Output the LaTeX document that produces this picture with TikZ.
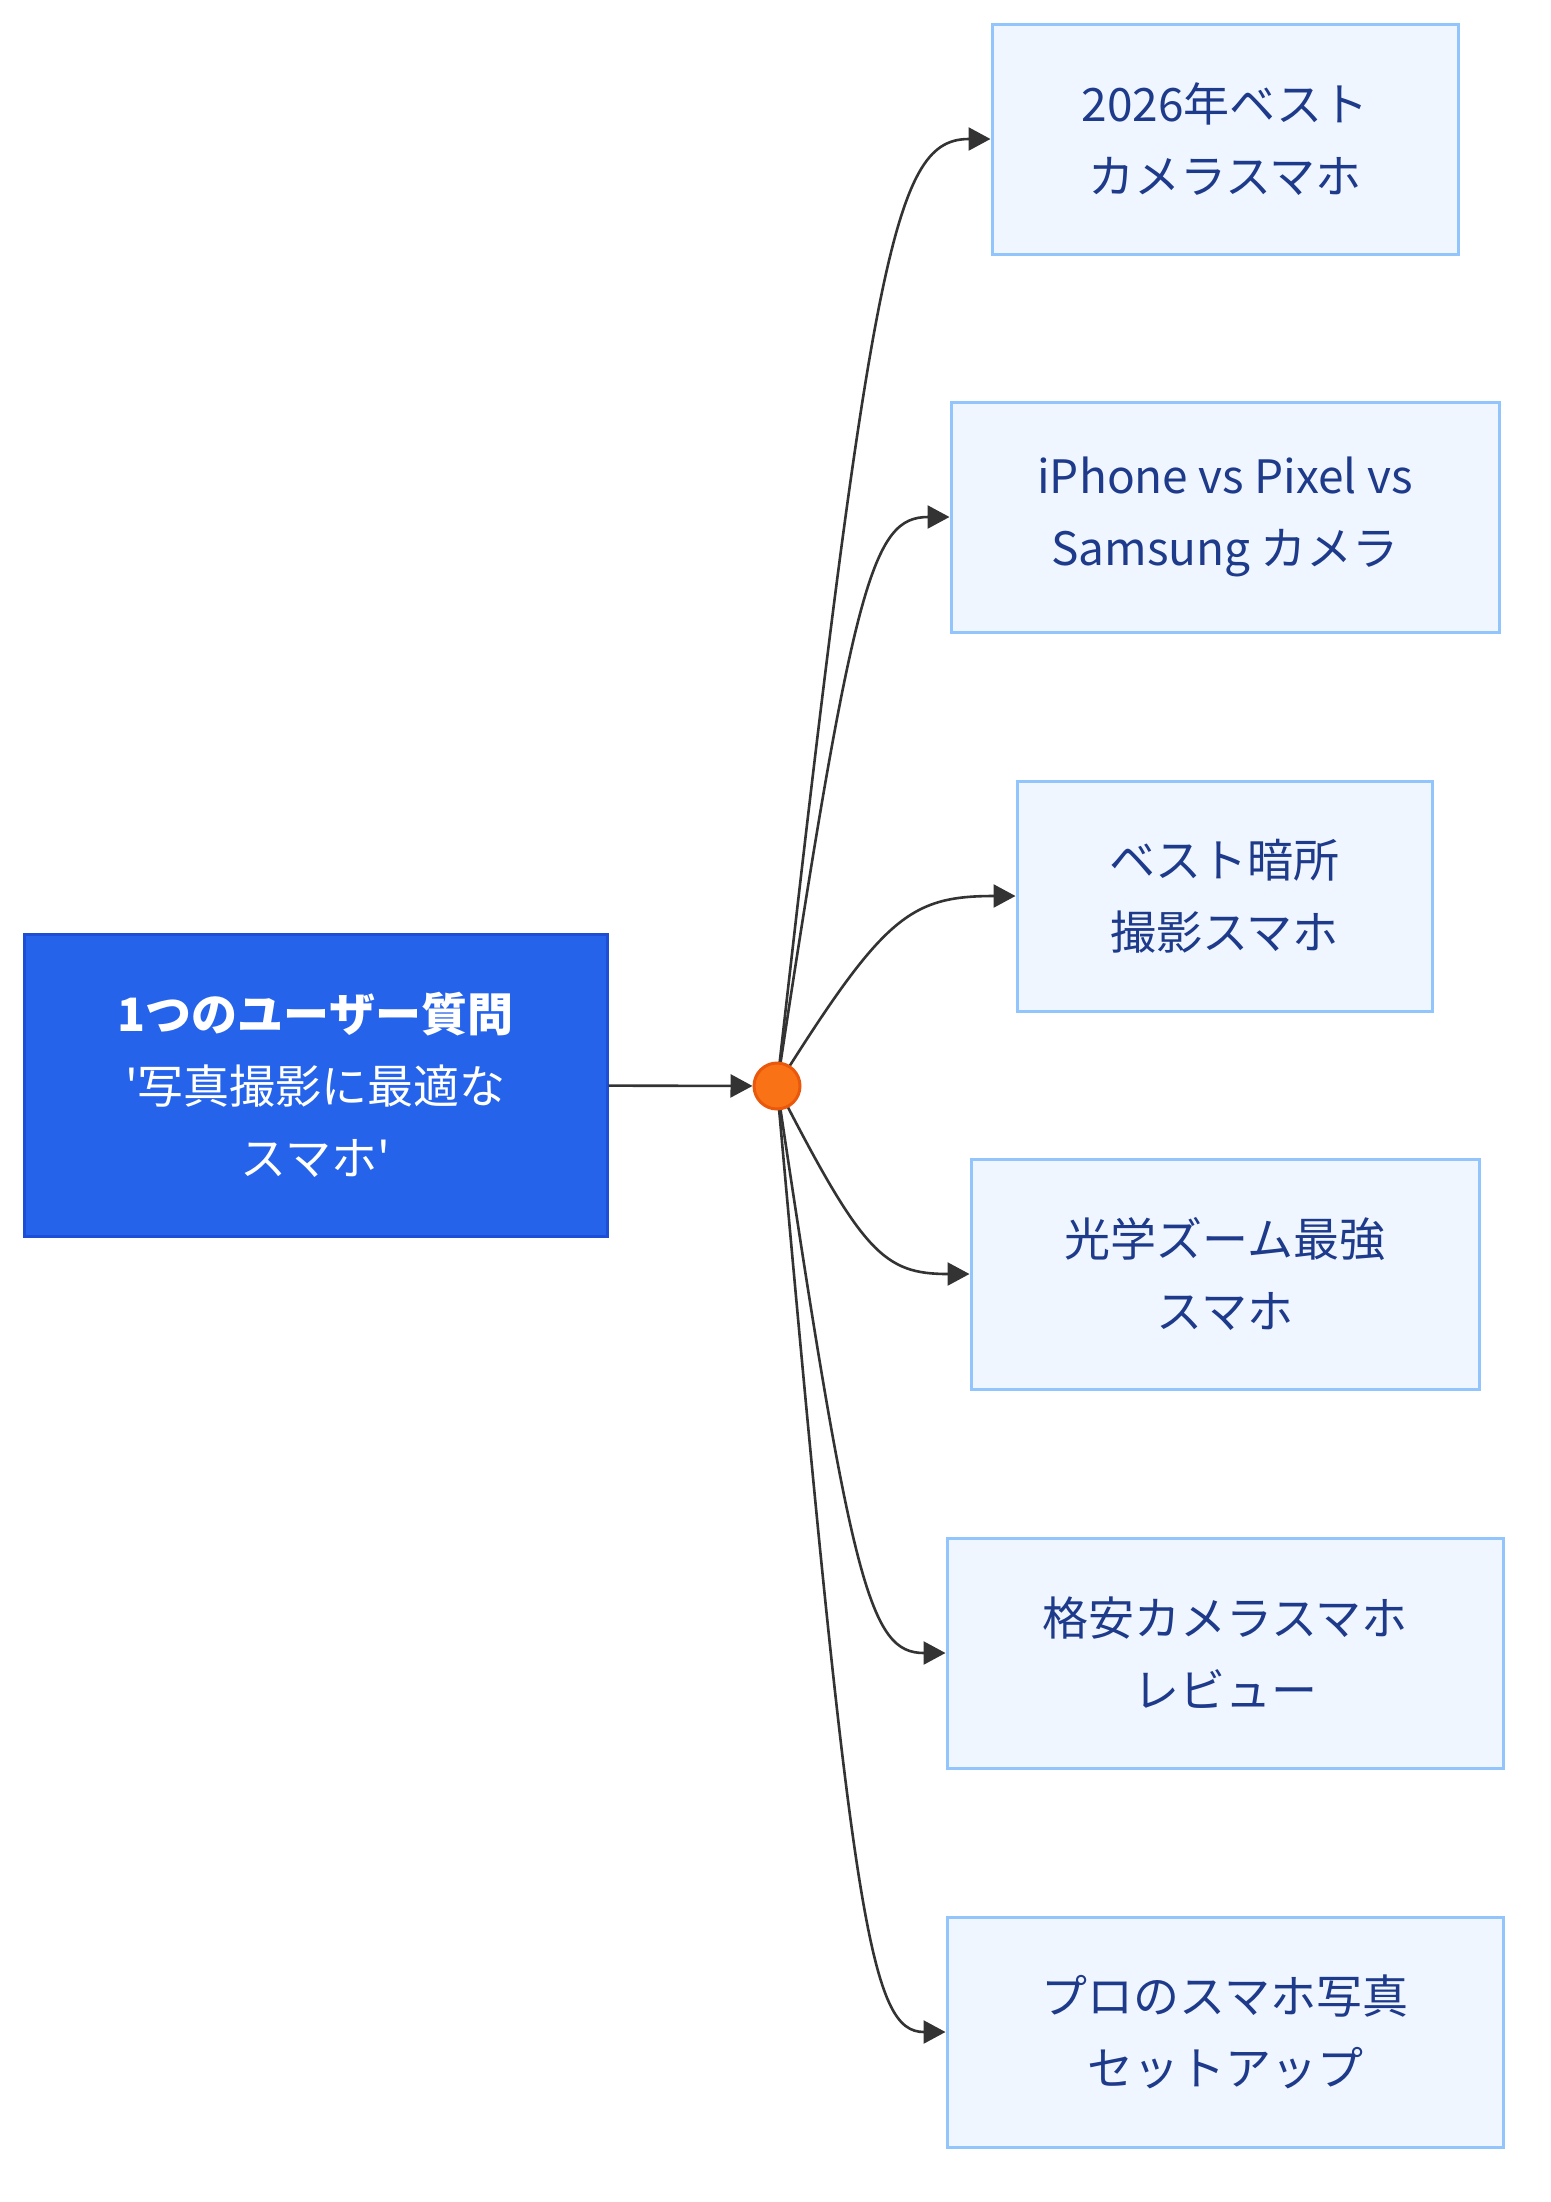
\documentclass[tikz,border=0pt]{standalone}
\usepackage{fontspec}
\usepackage{tikz}
\usetikzlibrary{positioning, arrows.meta, calc, backgrounds}
\usepackage{xcolor}
\newfontfamily\jpfont{Noto Sans CJK JP}[Ligatures=TeXOff]
\definecolor{leaffill}{HTML}{EFF6FF}
\definecolor{leafline}{HTML}{93C5FD}
\definecolor{leaftext}{HTML}{1E3A8A}
\definecolor{srcfill}{HTML}{2563EB}
\definecolor{srcline}{HTML}{1D4ED8}
\definecolor{hubfill}{HTML}{F97316}
\definecolor{hubline}{HTML}{EA580C}
\definecolor{edgegray}{HTML}{333333}
\tikzset{
    leaf/.style={
        rectangle,
        draw=leafline,
        fill=leaffill,
        line width=1.5pt,
        text=leaftext,
        font=\jpfont\fontsize{23}{36}\selectfont,
        align=center,
        inner sep=0pt,
        minimum height=115pt
    },
    src/.style={
        rectangle,
        draw=srcline,
        fill=srcfill,
        line width=1.5pt,
        text=white,
        font=\jpfont\fontsize{23}{36}\selectfont,
        align=center,
        inner sep=0pt,
        minimum width=291.5pt,
        minimum height=151pt
    },
    link/.style={
        line width=1.3pt,
        edgegray,
        -{Triangle[length=11pt,width=11.5pt]}
    },
    fanedge/.style={
        link,
        to path={
            let \p1=(\tikztostart), \p2=(\tikztotarget) in
            .. controls ({\x1+0.445*(\x2-\x1)},{\y1+0.89*(\y2-\y1)})
                    and ({\x2-0.445*(\x2-\x1)},{\y2}) .. (\tikztotarget)
        }
    }
}

\begin{document}
\begin{tikzpicture}[
        x=0.5pt, y=-0.5pt,
        hub/.style={circle,draw=hubline,fill=hubfill,line width=1.5pt,inner sep=0pt,minimum size=23pt}
      ]

      \useasboundingbox (0,0) rectangle (1551,2202);

      \node[src] (question) at (315.5,1085) {\textbf{1つのユーザー質問}\\'写真撮影に最適な\\スマホ'};
      \node[hub] (hub) at (777,1086) {};

      \node[leaf, minimum width=233pt] (best) at (1225,139) {2026年ベスト\\カメラスマホ};
      \node[leaf, minimum width=274pt] (versus) at (1225,517) {iPhone vs Pixel vs\\Samsung カメラ};
      \node[leaf, minimum width=207.5pt] (lowlight) at (1224.5,896) {ベスト暗所\\撮影スマホ};
      \node[leaf, minimum width=254pt] (zoomphone) at (1225,1274) {光学ズーム最強\\スマホ};
      \node[leaf, minimum width=278pt] (budget) at (1225,1653) {格安カメラスマホ\\レビュー};
      \node[leaf, minimum width=278pt] (prosetup) at (1225,2032) {プロのスマホ写真\\セットアップ};

      \draw[link] (question) -- (hub);

      \begin{pgfonlayer}{background}
        \draw[fanedge] (hub.center) to (best.west);
        \draw[fanedge] (hub.center) to (versus.west);
        \draw[fanedge] (hub.center) to (lowlight.west);
        \draw[fanedge] (hub.center) to (zoomphone.west);
        \draw[fanedge] (hub.center) to (budget.west);
        \draw[fanedge] (hub.center) to (prosetup.west);
      \end{pgfonlayer}

    \end{tikzpicture}
\end{document}
